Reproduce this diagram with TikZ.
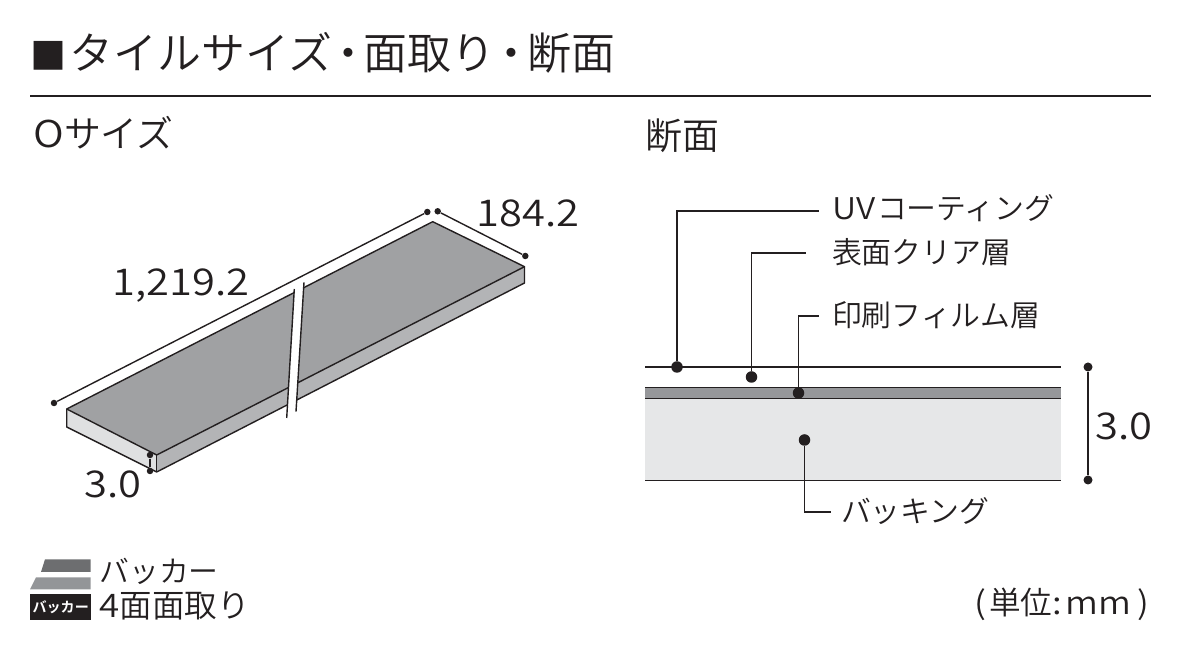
\documentclass[tikz,border=0pt]{standalone}
\usepackage{fontspec}
\setmainfont{Noto Sans CJK JP}[UprightFont=* DemiLight,BoldFont=* Bold]
\newfontfamily\digitfont{Noto Sans CJK JP}[UprightFont=* DemiLight,FakeStretch=1.13]
\definecolor{inkblack}{HTML}{231F20}
\definecolor{tiletop}{HTML}{A0A1A3}
\definecolor{tileleft}{HTML}{DFE0E1}
\definecolor{tileright}{HTML}{B3B4B6}
\definecolor{layerprint}{HTML}{96979A}
\definecolor{layerback}{HTML}{E6E7E8}
\definecolor{legendtop}{HTML}{6D6E70}
\definecolor{legendmid}{HTML}{939598}
\newcommand{\titledot}{\hspace{-0.14em}・\hspace{-0.14em}}
\tikzset{
  bigtext/.style={anchor=base west,inner sep=0,text=inkblack,font=\fontsize{25}{25}\selectfont},
  headtext/.style={anchor=base west,inner sep=0,text=inkblack,font=\fontsize{21}{21}\selectfont},
  dimtext/.style={anchor=base west,inner sep=0,text=inkblack,font=\fontsize{21}{21}\selectfont\digitfont},
  plaintext/.style={anchor=base west,inner sep=0,text=inkblack,font=\fontsize{17}{17}\selectfont},
  leadertext/.style={anchor=west,inner ysep=0,outer sep=0,text height=0.54cm,text depth=0.10cm,text=inkblack,font=\fontsize{17}{17}\selectfont},
  layerdot/.style={circle,fill=inkblack,inner sep=0,minimum size=0.23cm},
  sizedot/.style={circle,fill=inkblack,inner sep=0,minimum size=0.13cm},
  edge/.style={line width=0.028cm,draw=inkblack},
  leader/.style={line width=0.03cm,draw=inkblack}
}
\begin{document}
\begin{tikzpicture}
  \useasboundingbox (0,0) rectangle (23.64,13.00);

  % Heading and rule
  \node [bigtext] (title) at (0.600,11.600) {{\fontsize{20.5}{25}\selectfont ■}\hspace{0.08em}タイルサイズ\titledot 面取り\titledot 断面};
  \draw [leader] (0.600,11.080) -- (23.020,11.080);
  \node [headtext] (sizehead) at (0.660,10.040) {{\digitfont O}サイズ};
  \node [headtext] (crosshead) at (12.900,10.000) {断面};

  % Drawing tile faces
  \fill [tiletop] (1.334,4.820) -- (8.654,8.566) -- (10.490,7.666) -- (3.134,3.900) -- cycle;
  \fill [tileleft] (1.334,4.820) -- (3.134,3.900) -- (3.134,3.560) -- (1.334,4.460) -- cycle;
  \fill [tileright] (3.134,3.900) -- (10.490,7.666) -- (10.490,7.340) -- (3.134,3.560) -- cycle;
  \draw [edge,line join=round] (1.334,4.820) -- (8.654,8.566) -- (10.490,7.666) -- (3.134,3.900) -- cycle;
  \draw [edge,line join=round] (1.334,4.820) -- (1.334,4.460) -- (3.134,3.560) -- (10.490,7.340) -- (10.490,7.666);
  \draw [edge] (3.134,3.900) -- (3.134,3.560);

  % Drawing break in tile
  \fill [white] (5.734,4.640) -- (5.886,7.220) -- (6.080,7.354) -- (5.920,4.766) -- cycle;
  \draw [edge] (5.734,4.640) -- (5.886,7.220);
  \draw [edge] (5.920,4.766) -- (6.080,7.354);

  % Marking tile sizes
  \node [sizedot] (longa) at (1.080,4.940) {};
  \node [sizedot] (longb) at (8.546,8.760) {};
  \draw [edge] (longa) -- (longb);
  \node [sizedot] (shorta) at (8.754,8.774) {};
  \node [sizedot] (shortb) at (10.506,7.880) {};
  \draw [edge] (shorta) -- (shortb);
  \node [sizedot] (thina) at (3.000,3.900) {};
  \node [sizedot] (thinb) at (3.000,3.580) {};
  \draw [edge] (thina) -- (thinb);
  \node [dimtext] (longtext) at (2.240,7.080) {1,219.2};
  \node [dimtext] (shorttext) at (9.520,8.460) {184.2};
  \node [dimtext] (thintext) at (1.680,3.040) {3.0};

  % Drawing layers of cross section
  \fill [layerprint] (12.900,5.026) rectangle (21.220,5.254);
  \fill [layerback] (12.900,3.400) rectangle (21.220,5.026);
  \draw [leader] (12.900,5.660) -- (21.220,5.660);
  \draw [leader] (12.900,5.254) -- (21.220,5.254);
  \draw [leader] (12.900,5.026) -- (21.220,5.026);
  \draw [leader] (12.900,3.390) -- (21.220,3.390);

  % Marking layers by dot and leader
  \node [layerdot] (uvdot) at (13.540,5.660) {};
  \node [layerdot] (cleardot) at (15.030,5.460) {};
  \node [layerdot] (printdot) at (15.970,5.140) {};
  \node [layerdot] (backdot) at (16.090,4.200) {};
  \node [leadertext,text height=0.46cm,inner xsep=0.26cm] (uvtext) at (16.380,8.780) {{\digitfont UV\hspace{0.06em}}コーティング};
  \node [leadertext,inner xsep=0.52cm] (cleartext) at (16.120,7.940) {表面クリア層};
  \node [leadertext,inner xsep=0.26cm] (printtext) at (16.380,6.680) {印刷フィルム層};
  \node [leadertext,inner xsep=0.20cm] (backtext) at (16.620,2.760) {バッキング};
  \draw [leader] (uvdot) |- (uvtext);
  \draw [leader] (cleardot) |- (cleartext);
  \draw [leader] (printdot) |- (printtext);
  \draw [leader] (backdot) |- (backtext);

  % Marking total thickness
  \node [sizedot,minimum size=0.18cm] (totala) at (21.760,5.660) {};
  \node [sizedot,minimum size=0.18cm] (totalb) at (21.760,3.400) {};
  \draw [leader] (totala) -- (totalb);
  \node [dimtext] (totaltext) at (21.900,4.200) {3.0};

  % Drawing legend
  \fill [legendtop] (0.820,1.560) -- (0.900,1.814) -- (1.814,1.814) -- (1.814,1.560) -- cycle;
  \fill [legendmid] (0.600,1.214) -- (0.720,1.454) -- (1.814,1.454) -- (1.814,1.214) -- cycle;
  \node [fill=inkblack,anchor=south west,inner sep=0,minimum width=1.214cm,minimum height=0.514cm,text=white,font=\fontsize{8}{8}\selectfont\bfseries] (backerbox) at (0.600,0.600) {バッカー};
  \node [plaintext] (backertext) at (1.980,1.340) {バッカー};
  \node [plaintext,font=\fontsize{18.5}{18.5}\selectfont] (chamfertext) at (1.980,0.640) {{\digitfont 4}面面取り};
  \node [plaintext,font=\fontsize{18}{18}\selectfont] (unittext) at (19.480,0.710) {{\digitfont (\hspace{0.1em}}単位{\digitfont :\hspace{0.1em}mm\hspace{0.2em})}};
\end{tikzpicture}
\end{document}
